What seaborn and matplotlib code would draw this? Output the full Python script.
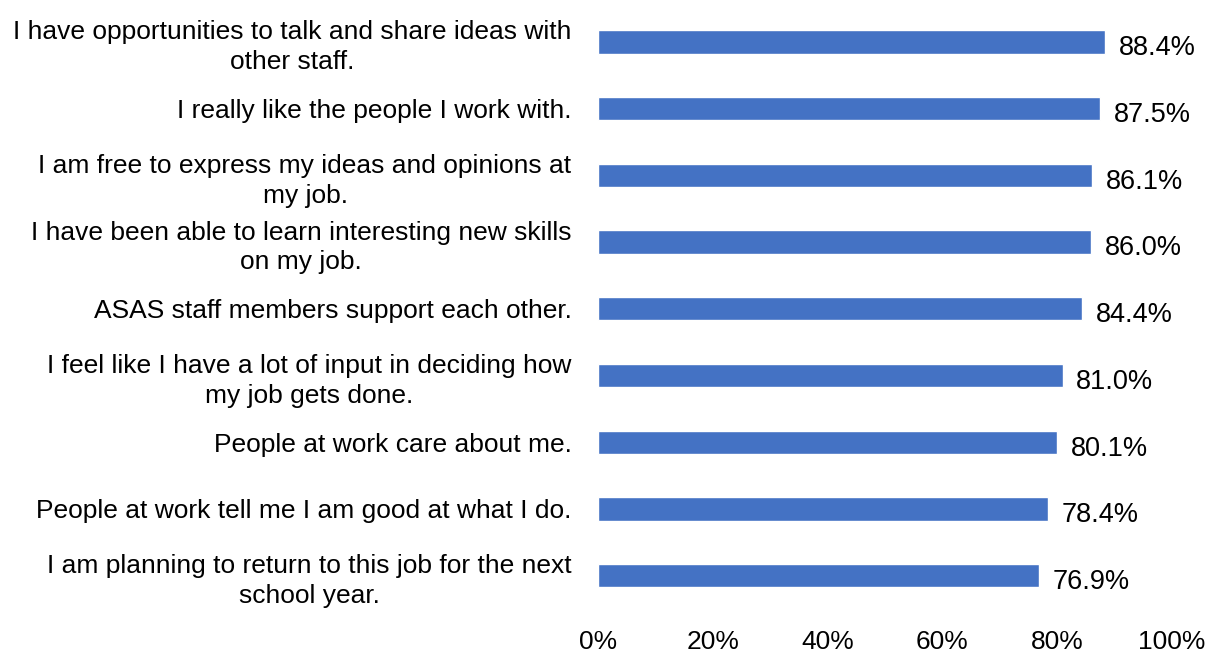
import matplotlib
matplotlib.use("Agg")
import matplotlib.pyplot as plt
import seaborn as sns
import pandas as pd

statements = [
    "I have opportunities to talk and share ideas with\nother staff.",
    "I really like the people I work with.",
    "I am free to express my ideas and opinions at\nmy job.",
    "I have been able to learn interesting new skills\non my job.",
    "ASAS staff members support each other.",
    "I feel like I have a lot of input in deciding how\nmy job gets done.",
    "People at work care about me.",
    "People at work tell me I am good at what I do.",
    "I am planning to return to this job for the next\nschool year.",
]
agree_pct = [88.4, 87.5, 86.1, 86.0, 84.4, 81.0, 80.1, 78.4, 76.9]
x_ticks = [0, 20, 40, 60, 80, 100]

sns.set_theme(style="white")
plt.rcParams["font.family"] = ["Liberation Sans", "DejaVu Sans"]

df = pd.DataFrame({"statement": statements, "pct": agree_pct})

fig = plt.figure(figsize=(12.09, 6.54), dpi=100)
ax = fig.add_axes([0.4946, 0.0688, 0.969 - 0.4946, 0.987 - 0.0688])

sns.barplot(data=df, x="pct", y="statement", orient="h", color="#4472C4",
            saturation=1, width=0.35, ax=ax)

for i, v in enumerate(agree_pct):
    ax.text(v + 2.4, i + 0.05, f"{v:.1f}%", va="center_baseline", ha="left",
            fontsize=19.5, color="#000000")

ax.set_xlim(0, 100)
ax.set_xticks(x_ticks)
ax.set_xticklabels([f"{t}%" for t in x_ticks], fontsize=19, color="#000000")
ax.set_yticks(range(len(statements)))
ax.set_yticklabels(statements, fontsize=19, color="#000000", multialignment="center",
                   linespacing=1.3)
ax.tick_params(axis="y", length=0, pad=19)
ax.tick_params(axis="x", length=0, pad=15)
ax.set_xlabel("")
ax.set_ylabel("")
for s in ax.spines.values():
    s.set_visible(False)
ax.grid(False)

fig.savefig("out.png", dpi=100)
